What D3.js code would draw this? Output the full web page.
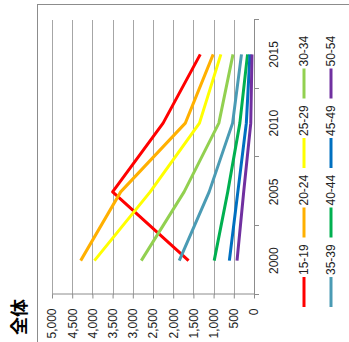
<!DOCTYPE html>
<html>
<head>
<meta charset="utf-8">
<script src="https://cdn.jsdelivr.net/npm/d3@7"></script>
<style>
  body { margin: 0; background: #fff; }
  svg { display: block; }
</style>
</head>
<body>
<svg id="chart" width="349" height="342"></svg>
<script>
// Data
const years = ["2000", "2005", "2010", "2015"];
const ageGroups = ["15-19", "20-24", "25-29", "30-34", "35-39", "40-44", "45-49", "50-54"];
const age15_19 = [1620, 3500, 2250, 1330];
const age20_24 = [4290, 3300, 1700, 1010];
const age25_29 = [3950, 2570, 1350, 820];
const age30_34 = [2790, 1730, 870, 520];
const age35_39 = [1850, 1110, 530, 310];
const age40_44 = [985, 650, 350, 160];
const age45_49 = [610, 400, 190, 100];
const age50_54 = [420, 255, 80, 50];
const valueTicks = [0, 500, 1000, 1500, 2000, 2500, 3000, 3500, 4000, 4500, 5000];
const chartTitle = "全体";

const seriesValues = [age15_19, age20_24, age25_29, age30_34, age35_39, age40_44, age45_49, age50_54];
const seriesColors = ["#ff0000", "#ffb000", "#ffff00", "#92d050", "#4a9bb4", "#00b050", "#0070c0", "#7030a0"];

const svg = d3.select("#chart");

// The whole chart is laid out in its own frame (342 wide, 349 tall) and turned a quarter turn counter-clockwise.
const W = 342;
const g = svg.append("g").attr("transform", `translate(0,${W}) rotate(-90)`);

const x = d3.scaleBand().domain(years).range([47, 322]);
const y = d3.scaleLinear().domain([0, 5000]).range([254, 52]);

const fontFamily = "'Liberation Sans', Arial, sans-serif";

// Outer frame
g.append("rect")
  .attr("x", -6).attr("y", 37.5)
  .attr("width", 338 - 0.5 + 6).attr("height", 330)
  .attr("fill", "none").attr("stroke", "#8c8c8c").attr("stroke-width", 1);

// Title
g.append("text")
  .attr("x", 7).attr("y", 26)
  .attr("font-family", "'Noto Sans CJK JP', sans-serif")
  .attr("font-weight", "bold").attr("font-size", 18)
  .attr("fill", "#000")
  .text(chartTitle);

// Horizontal gridlines
g.append("g").selectAll("line")
  .data(valueTicks.filter(t => t > 0))
  .join("line")
  .attr("x1", 47).attr("x2", 322)
  .attr("y1", d => Math.round(y(d)) + 0.5).attr("y2", d => Math.round(y(d)) + 0.5)
  .attr("stroke", "#a6a6a6").attr("stroke-width", 1);

// Value axis
const yAxis = g.append("g")
  .attr("transform", "translate(47.5,0)")
  .call(d3.axisLeft(y).tickValues(valueTicks).tickSize(4).tickSizeOuter(0).tickPadding(10)
    .tickFormat(d3.format(",")));
yAxis.select(".domain").attr("stroke", "#8c8c8c");
yAxis.selectAll(".tick line").attr("stroke", "#8c8c8c");
yAxis.selectAll(".tick text")
  .attr("font-family", fontFamily).attr("font-size", 12).attr("fill", "#222");

// Category axis
const catAxis = g.append("g");
catAxis.append("line")
  .attr("x1", 47).attr("x2", 322)
  .attr("y1", y(0) + 0.5).attr("y2", y(0) + 0.5)
  .attr("stroke", "#8c8c8c");
const bounds = years.map(d => x(d)).concat([x(years[years.length - 1]) + x.bandwidth()]);
catAxis.selectAll("line.tick")
  .data(bounds)
  .join("line").attr("class", "tick")
  .attr("x1", d => Math.round(d) + 0.5).attr("x2", d => Math.round(d) + 0.5)
  .attr("y1", y(0)).attr("y2", y(0) + 5)
  .attr("stroke", "#8c8c8c");
catAxis.selectAll("text")
  .data(years)
  .join("text")
  .attr("x", d => x(d) + x.bandwidth() / 2)
  .attr("y", 278)
  .attr("text-anchor", "middle")
  .attr("font-family", fontFamily).attr("font-size", 12).attr("fill", "#222")
  .text(d => d);

// Series lines
const line = d3.line()
  .x((d, i) => x(years[i]) + x.bandwidth() / 2)
  .y(d => y(d));

g.append("g").selectAll("path")
  .data(seriesValues)
  .join("path")
  .attr("d", d => line(d))
  .attr("fill", "none")
  .attr("stroke", (d, i) => seriesColors[i])
  .attr("stroke-width", 3)
  .attr("stroke-linejoin", "round");

// Legend: two rows of four
const legendRows = [304, 331];
const legendCols = [35, 104.5, 174, 243.5];
const legend = g.append("g").selectAll("g")
  .data(ageGroups)
  .join("g")
  .attr("transform", (d, i) => `translate(${legendCols[i % 4]},${legendRows[Math.floor(i / 4)]})`);
legend.append("line")
  .attr("x1", 0).attr("x2", 30).attr("y1", 0).attr("y2", 0)
  .attr("stroke", (d, i) => seriesColors[i]).attr("stroke-width", 3);
legend.append("text")
  .attr("x", 32).attr("y", 0).attr("dy", "0.35em")
  .attr("font-family", fontFamily).attr("font-size", 12).attr("fill", "#222")
  .text(d => d);
</script>
</body>
</html>
